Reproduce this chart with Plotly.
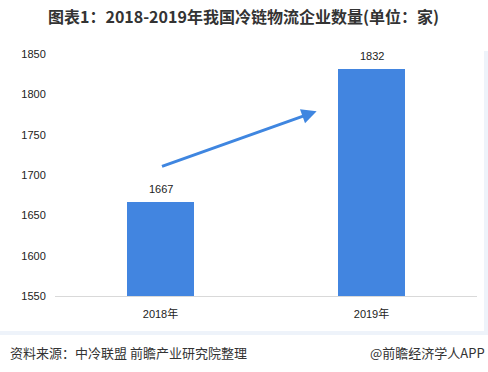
import plotly.graph_objects as go

categories = ["2018年", "2019年"]
values = [1667, 1832]
y_ticks = [1550, 1600, 1650, 1700, 1750, 1800, 1850]

title_text = "图表1：2018-2019年我国冷链物流企业数量(单位：家)"
source_text = "资料来源：中冷联盟 前瞻产业研究院整理"
brand_text = "@前瞻经济学人APP"

bar_color = "#4285E0"
font_cjk = "Noto Sans CJK SC"

W, H = 488, 372
L, R, T, B = 55, 11, 54, 76
PW = W - L - R
PH = H - T - B


def px_x(p):
    return (p - L) / PW


def px_y(p):
    return (H - B - p) / PH


fig = go.Figure()
fig.add_trace(go.Bar(
    x=[0, 1], y=values,
    marker=dict(color=bar_color, line=dict(width=0)),
    width=0.318,
    hoverinfo="skip",
))

annotations = [
    dict(text="<b>" + title_text + "</b>", xref="paper", yref="paper",
         x=px_x(243), xanchor="center", y=1, yanchor="bottom", yshift=24,
         showarrow=False,
         font=dict(family=font_cjk, size=16, color="#333")),
    dict(text=source_text, xref="paper", yref="paper",
         x=px_x(8), xanchor="left", y=0, yanchor="middle", yshift=-56,
         showarrow=False,
         font=dict(family=font_cjk, size=13, color="#333")),
    dict(text=brand_text, xref="paper", yref="paper",
         x=px_x(487), xanchor="right", y=0, yanchor="middle", yshift=-56,
         showarrow=False,
         font=dict(family=font_cjk, size=13, color="#333")),
    dict(x=0.74, y=1779, ax=0.0, ay=1710, xref="x", yref="y",
         axref="x", ayref="y", showarrow=True, text="",
         arrowhead=2, arrowsize=1, arrowwidth=3, arrowcolor="#3F86E0"),
]
for i, v in enumerate(values):
    annotations.append(dict(
        x=i, y=v, xref="x", yref="y", text=str(v), showarrow=False,
        yanchor="bottom", yshift=5,
        font=dict(family="Liberation Sans, " + font_cjk, size=11, color="#222")))

fig.update_layout(
    width=W, height=H,
    margin=dict(l=L, r=R, t=T, b=B),
    paper_bgcolor="white", plot_bgcolor="white",
    showlegend=False,
    bargap=0,
    xaxis=dict(
        range=[-0.5, 1.5],
        tickmode="array", tickvals=[0, 1], ticktext=categories,
        showgrid=False, zeroline=False,
        showline=True, linecolor="#d9d9d9", linewidth=1,
        ticks="outside", ticklen=8, tickcolor="rgba(0,0,0,0)",
        tickfont=dict(family="Liberation Sans, " + font_cjk, size=11, color="#222"),
    ),
    yaxis=dict(
        range=[1550, 1850],
        tickmode="array", tickvals=y_ticks,
        showgrid=False, zeroline=False, showline=False,
        ticks="outside", ticklen=6, tickcolor="rgba(0,0,0,0)",
        tickfont=dict(family="Liberation Sans", size=11, color="#222"),
    ),
    annotations=annotations,
    shapes=[
        dict(type="rect", xref="paper", yref="paper",
             x0=px_x(484), x1=px_x(488),
             y0=px_y(335), y1=px_y(51),
             fillcolor="#EEF3FA", line=dict(width=0), layer="below"),
        dict(type="rect", xref="paper", yref="paper",
             x0=px_x(0), x1=px_x(488),
             y0=px_y(335), y1=px_y(331),
             fillcolor="#EEF3FA", line=dict(width=0), layer="below"),
    ],
)

fig.write_html(
    "out.html",
    config={"displayModeBar": False},
    post_script="document.body.style.margin='0';document.body.style.overflow='hidden';",
)
